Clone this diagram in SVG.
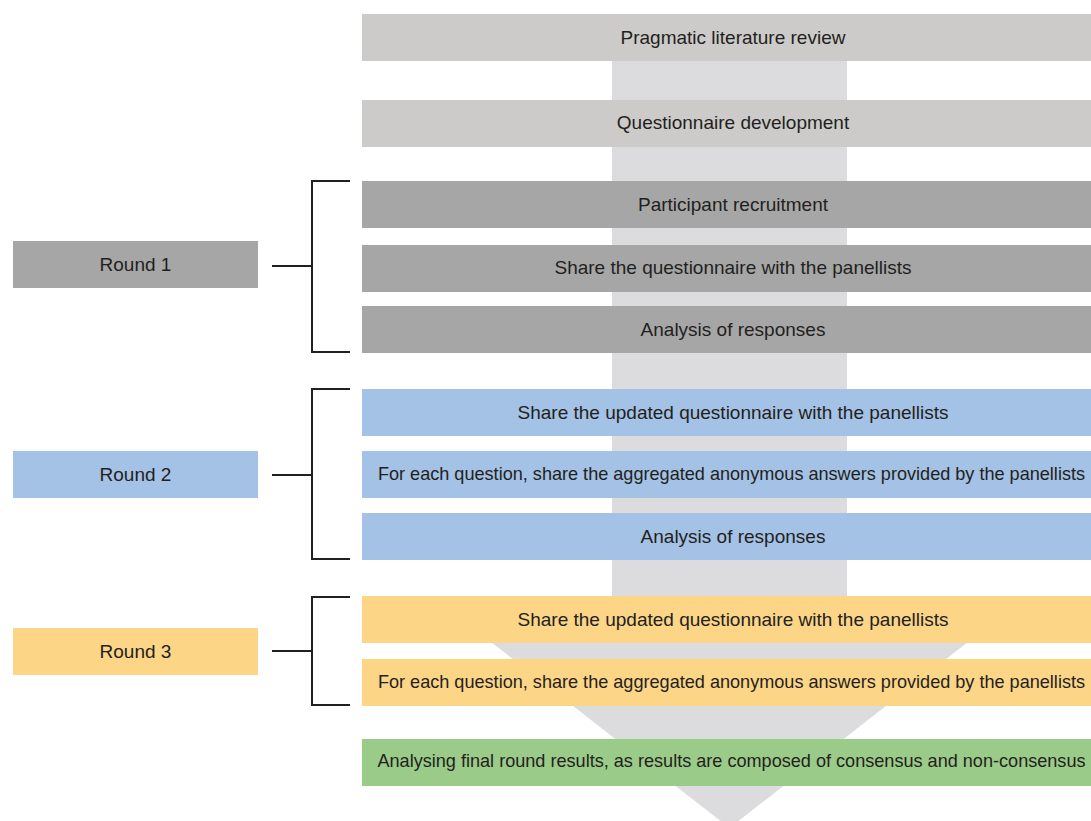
<svg xmlns="http://www.w3.org/2000/svg" width="1091" height="821" viewBox="0 0 1091 821">
<style>
.t{font-family:"Liberation Sans",Arial,sans-serif;font-size:19px;fill:#231f20;text-anchor:middle;dominant-baseline:central}
.w{font-size:18.1px}
.g1{fill:#cccbc9}.g2{fill:#a6a6a6}.bl{fill:#a3c2e5}.ye{fill:#fdd587}.gr{fill:#9bcb88}
.br{fill:none;stroke:#231f20;stroke-width:2}
</style>
<rect width="1091" height="821" fill="#fff"/>
<g id="arrow"><polygon points="612,60 847,60 847,610 1009,610 729.5,828 450,610 612,610" fill="#dcdcde"/></g>
<g id="s1"><rect class="g1" x="362" y="14" width="742" height="47"/><text class="t" x="733" y="37">Pragmatic literature review</text></g>
<g id="s2"><rect class="g1" x="362" y="100" width="742" height="47"/><text class="t" x="733" y="122">Questionnaire development</text></g>
<g id="s3"><rect class="g2" x="362" y="181" width="742" height="47"/><text class="t" x="733" y="204">Participant recruitment</text></g>
<g id="s4"><rect class="g2" x="362" y="245" width="742" height="47"/><text class="t" x="733" y="267">Share the questionnaire with the panellists</text></g>
<g id="s5"><rect class="g2" x="362" y="306" width="742" height="47"/><text class="t" x="733" y="329">Analysis of responses</text></g>
<g id="s6"><rect class="bl" x="362" y="389" width="742" height="47"/><text class="t" x="733" y="412">Share the updated questionnaire with the panellists</text></g>
<g id="s7"><rect class="bl" x="362" y="451" width="742" height="47"/><text class="t w" x="731.5" y="474">For each question, share the aggregated anonymous answers provided by the panellists</text></g>
<g id="s8"><rect class="bl" x="362" y="513" width="742" height="47"/><text class="t" x="733" y="536">Analysis of responses</text></g>
<g id="s9"><rect class="ye" x="362" y="596" width="742" height="47"/><text class="t" x="733" y="619">Share the updated questionnaire with the panellists</text></g>
<g id="s10"><rect class="ye" x="362" y="659" width="742" height="47"/><text class="t w" x="731.5" y="682">For each question, share the aggregated anonymous answers provided by the panellists</text></g>
<g id="s11"><rect class="gr" x="362" y="739" width="742" height="47"/><text class="t w" x="731.5" y="761">Analysing final round results, as results are composed of consensus and non-consensus</text></g>
<g id="r1"><rect class="g2" x="13" y="241" width="245" height="47"/><text class="t" x="135.5" y="264">Round 1</text></g>
<g id="r2"><rect class="bl" x="13" y="451" width="245" height="47"/><text class="t" x="135.5" y="474">Round 2</text></g>
<g id="r3"><rect class="ye" x="13" y="628" width="245" height="47"/><text class="t" x="135.5" y="651">Round 3</text></g>
<g id="connectors">
<path class="br" d="M350,181 H312 V352 H350 M272,266 H312"/>
<path class="br" d="M350,389 H312 V559 H350 M272,475 H312"/>
<path class="br" d="M350,597 H312 V705 H350 M272,651 H312"/>
</g>
</svg>
